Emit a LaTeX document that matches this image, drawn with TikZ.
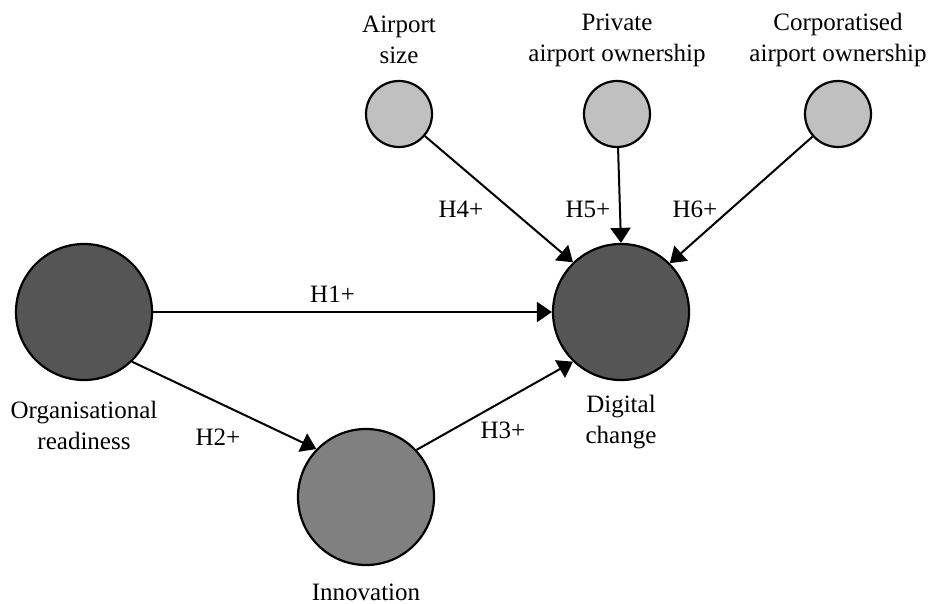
\documentclass[tikz,border=0pt]{standalone}
\usepackage{fontspec}
\setmainfont{Liberation Serif}
\usetikzlibrary{arrows.meta}
\definecolor{darkc}{HTML}{555555}
\definecolor{midc}{HTML}{808080}
\definecolor{lightc}{HTML}{C0C0C0}
\begin{document}
\begin{tikzpicture}[x=1pt,y=-1pt,
  bigc/.style={circle,draw=black,line width=2.2pt,minimum size=136pt,inner sep=0pt},
  smallc/.style={circle,draw=black,line width=2.2pt,minimum size=66pt,inner sep=0pt,fill=lightc},
  lbl/.style={align=center,inner sep=0pt,font=\fontsize{25}{31}\selectfont},
  conn/.style={line width=2pt,-{Triangle[length=15pt,width=20pt]}}
]
\useasboundingbox (0,0) rectangle (928,604);
\node[bigc,fill=darkc] (or) at (84,312) {};
\node[bigc,fill=darkc] (dc) at (621,312) {};
\node[bigc,fill=midc] (inn) at (366,497) {};
\node[smallc] (as) at (399,114) {};
\node[smallc] (ps) at (617,114) {};
\node[smallc] (cs) at (838,114) {};

\node[lbl] (asl) at (399,40) {Airport\\size};
\node[lbl] (psl) at (617,40) {Private\\airport ownership};
\node[lbl] (csl) at (838,40) {Corporatised\\airport ownership};
\node[lbl] (orl) at (84,425) {Organisational\\readiness};
\node[lbl] (dcl) at (621,422) {Digital\\change};
\node[lbl] (innl) at (366,592) {Innovation};

\draw[conn] (or.east) -- (dc.west) node[lbl,pos=0.45,above=9pt] (h1) {H1+};
\draw[conn] (or.-46) -- (inn.136);
\draw[conn] (inn.43) -- (dc.226);
\draw[conn] (as) -- (dc.134);
\draw[conn] (ps) -- (dc.north);
\draw[conn] (cs) -- (dc.45);

\node[lbl] (h2) at (218,437) {H2+};
\node[lbl] (h3) at (503,430) {H3+};
\node[lbl] (h4) at (461,209) {H4+};
\node[lbl] (h5) at (588,209) {H5+};
\node[lbl] (h6) at (695,209) {H6+};
\end{tikzpicture}
\end{document}
